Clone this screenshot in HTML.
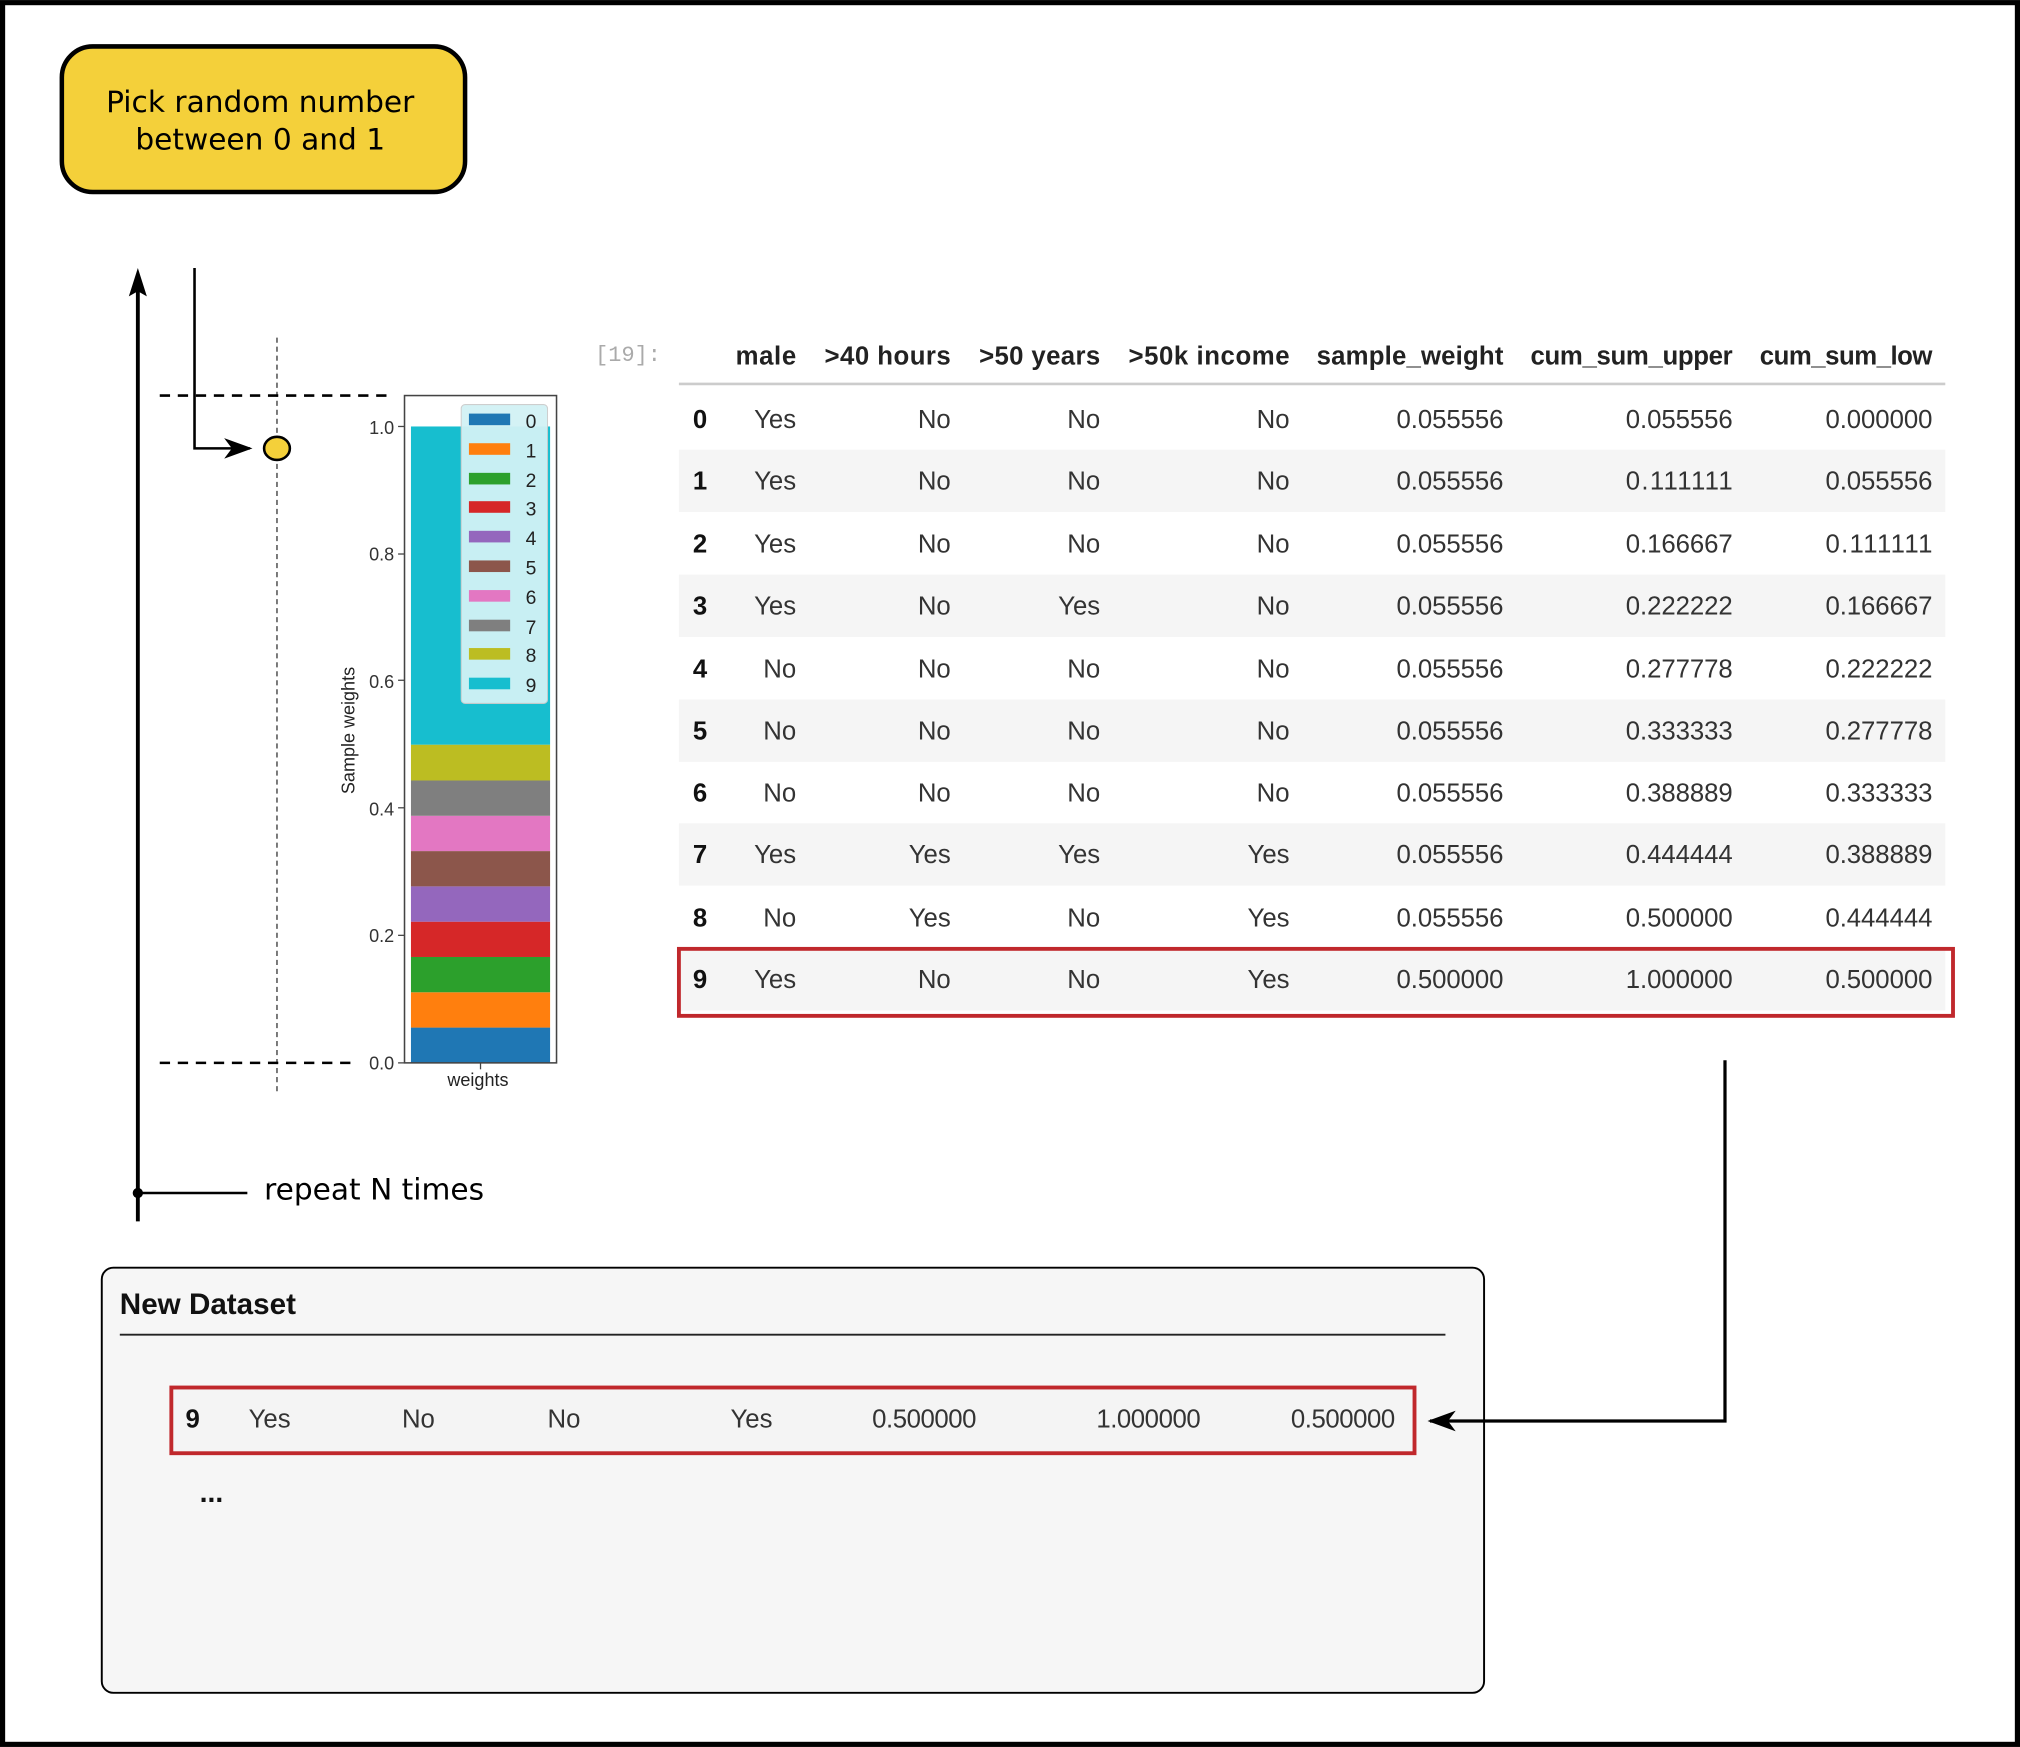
<!DOCTYPE html>
<html><head><meta charset="utf-8"><style>html,body{margin:0;padding:0;background:#fff}svg{display:block}</style></head><body>
<svg width="2020" height="1747" viewBox="0 0 1568 1356" xmlns="http://www.w3.org/2000/svg" font-family="Liberation Sans, sans-serif">
<defs>
<marker id="ah2" markerWidth="22" markerHeight="16" refX="20" refY="8" orient="auto" markerUnits="userSpaceOnUse"><path d="M0,0 L22,8 L0,16 L6,8 Z" fill="#000"/></marker>
</defs>
<rect x="0" y="0" width="1568" height="1356" fill="#fff"/>
<rect x="2" y="2" width="1564" height="1352" fill="none" stroke="#000" stroke-width="4"/>

<rect x="48" y="36" width="313" height="113" rx="24" fill="#f4d03a" stroke="#000" stroke-width="3.5"/>
<text x="202" y="87" font-size="23" text-anchor="middle" font-family="DejaVu Sans, sans-serif">Pick random number</text>
<text x="202" y="116" font-size="23" text-anchor="middle" font-family="DejaVu Sans, sans-serif">between 0 and 1</text>

<line x1="107" y1="948" x2="107" y2="222" stroke="#000" stroke-width="3"/>
<path d="M107,208 L100,230 L107,226 L114,230 Z" fill="#000"/>
<circle cx="107" cy="926" r="4" fill="#000"/>
<line x1="107" y1="926" x2="192" y2="926" stroke="#000" stroke-width="2"/>
<text x="205" y="931" font-size="23" font-family="DejaVu Sans, sans-serif">repeat N times</text>

<path d="M151,208 L151,348 L194,348" fill="none" stroke="#000" stroke-width="2" marker-end="url(#ah2)"/>
<line x1="215" y1="262" x2="215" y2="850" stroke="#555" stroke-width="1.2" stroke-dasharray="4,3"/>
<ellipse cx="215" cy="348" rx="10" ry="9" fill="#f4d03a" stroke="#000" stroke-width="2"/>
<line x1="124" y1="307" x2="305" y2="307" stroke="#000" stroke-width="2" stroke-dasharray="8,6"/>
<line x1="124" y1="825" x2="275" y2="825" stroke="#000" stroke-width="2" stroke-dasharray="8,6"/>

<g>
<rect x="319" y="797.6" width="108" height="27.4" fill="#1f77b4"/>
<rect x="319" y="770.2" width="108" height="27.4" fill="#ff7f0e"/>
<rect x="319" y="742.8" width="108" height="27.4" fill="#2ca02c"/>
<rect x="319" y="715.4" width="108" height="27.4" fill="#d62728"/>
<rect x="319" y="688" width="108" height="27.4" fill="#9467bd"/>
<rect x="319" y="660.6" width="108" height="27.4" fill="#8c564b"/>
<rect x="319" y="633.2" width="108" height="27.4" fill="#e377c2"/>
<rect x="319" y="605.8" width="108" height="27.4" fill="#7f7f7f"/>
<rect x="319" y="578" width="108" height="27.8" fill="#bcbd22"/>
<rect x="319" y="331" width="108" height="247" fill="#17becf"/>
<rect x="314" y="307" width="118" height="518" fill="none" stroke="#444" stroke-width="1.2"/>
<rect x="358" y="314" width="67" height="232" rx="3" fill="#d2f2f5" stroke="#ccc" stroke-width="0.8" opacity="0.95"/>
<g font-size="15" fill="#222">
<rect x="364" y="321" width="32" height="9" fill="#1f77b4"/><text x="408" y="332">0</text>
<rect x="364" y="344" width="32" height="9" fill="#ff7f0e"/><text x="408" y="355">1</text>
<rect x="364" y="367" width="32" height="9" fill="#2ca02c"/><text x="408" y="378">2</text>
<rect x="364" y="389" width="32" height="9" fill="#d62728"/><text x="408" y="400">3</text>
<rect x="364" y="412" width="32" height="9" fill="#9467bd"/><text x="408" y="423">4</text>
<rect x="364" y="435" width="32" height="9" fill="#8c564b"/><text x="408" y="446">5</text>
<rect x="364" y="458" width="32" height="9" fill="#e377c2"/><text x="408" y="469">6</text>
<rect x="364" y="481" width="32" height="9" fill="#7f7f7f"/><text x="408" y="492">7</text>
<rect x="364" y="503" width="32" height="9" fill="#bcbd22"/><text x="408" y="514">8</text>
<rect x="364" y="526" width="32" height="9" fill="#17becf"/><text x="408" y="537">9</text>
</g>
<g font-size="14" fill="#333" text-anchor="end">
<text x="306" y="337">1.0</text><text x="306" y="435">0.8</text><text x="306" y="534">0.6</text>
<text x="306" y="633">0.4</text><text x="306" y="731">0.2</text><text x="306" y="830">0.0</text>
</g>
<g stroke="#444" stroke-width="1"><line x1="309" y1="331" x2="314" y2="331"/><line x1="309" y1="430" x2="314" y2="430"/><line x1="309" y1="528" x2="314" y2="528"/><line x1="309" y1="627" x2="314" y2="627"/><line x1="309" y1="726" x2="314" y2="726"/><line x1="309" y1="825" x2="314" y2="825"/><line x1="373" y1="825" x2="373" y2="830"/></g>
<text x="371" y="843" font-size="14" text-anchor="middle" fill="#222">weights</text>
<text transform="translate(275,567) rotate(-90)" font-size="14" text-anchor="middle" fill="#222">Sample weights</text>
</g>

<text x="462" y="280" font-size="17" fill="#aaa" font-family="Liberation Mono, monospace">[19]:</text>
<g font-size="20" font-weight="bold" fill="#222" text-anchor="end">
<text x="618" y="283" textLength="47">male</text>
<text x="738" y="283" textLength="98">&gt;40 hours</text>
<text x="854" y="283" textLength="94">&gt;50 years</text>
<text x="1001" y="283" textLength="125">&gt;50k income</text>
<text x="1167" y="283" textLength="145">sample_weight</text>
<text x="1345" y="283" textLength="157">cum_sum_upper</text>
<text x="1500" y="283" textLength="134">cum_sum_low</text>
</g>
<line x1="527" y1="298" x2="1510" y2="298" stroke="#ccc" stroke-width="2"/>
<g fill="#f5f5f5">
<rect x="527" y="349" width="983" height="48.4"/><rect x="527" y="446" width="983" height="48.4"/>
<rect x="527" y="543" width="983" height="48.4"/><rect x="527" y="639" width="983" height="48.4"/>
<rect x="527" y="736" width="983" height="48.4"/>
</g>
<g font-size="20" fill="#333" text-anchor="end">
<g transform="translate(0,332)"><text x="549" font-weight="bold" fill="#111">0</text><text x="618">Yes</text><text x="738">No</text><text x="854">No</text><text x="1001">No</text><text x="1167" textLength="83">0.055556</text><text x="1345" textLength="83">0.055556</text><text x="1500" textLength="83">0.000000</text></g>
<g transform="translate(0,380)"><text x="549" font-weight="bold" fill="#111">1</text><text x="618">Yes</text><text x="738">No</text><text x="854">No</text><text x="1001">No</text><text x="1167" textLength="83">0.055556</text><text x="1345" textLength="83">0.111111</text><text x="1500" textLength="83">0.055556</text></g>
<g transform="translate(0,429)"><text x="549" font-weight="bold" fill="#111">2</text><text x="618">Yes</text><text x="738">No</text><text x="854">No</text><text x="1001">No</text><text x="1167" textLength="83">0.055556</text><text x="1345" textLength="83">0.166667</text><text x="1500" textLength="83">0.111111</text></g>
<g transform="translate(0,477)"><text x="549" font-weight="bold" fill="#111">3</text><text x="618">Yes</text><text x="738">No</text><text x="854">Yes</text><text x="1001">No</text><text x="1167" textLength="83">0.055556</text><text x="1345" textLength="83">0.222222</text><text x="1500" textLength="83">0.166667</text></g>
<g transform="translate(0,526)"><text x="549" font-weight="bold" fill="#111">4</text><text x="618">No</text><text x="738">No</text><text x="854">No</text><text x="1001">No</text><text x="1167" textLength="83">0.055556</text><text x="1345" textLength="83">0.277778</text><text x="1500" textLength="83">0.222222</text></g>
<g transform="translate(0,574)"><text x="549" font-weight="bold" fill="#111">5</text><text x="618">No</text><text x="738">No</text><text x="854">No</text><text x="1001">No</text><text x="1167" textLength="83">0.055556</text><text x="1345" textLength="83">0.333333</text><text x="1500" textLength="83">0.277778</text></g>
<g transform="translate(0,622)"><text x="549" font-weight="bold" fill="#111">6</text><text x="618">No</text><text x="738">No</text><text x="854">No</text><text x="1001">No</text><text x="1167" textLength="83">0.055556</text><text x="1345" textLength="83">0.388889</text><text x="1500" textLength="83">0.333333</text></g>
<g transform="translate(0,670)"><text x="549" font-weight="bold" fill="#111">7</text><text x="618">Yes</text><text x="738">Yes</text><text x="854">Yes</text><text x="1001">Yes</text><text x="1167" textLength="83">0.055556</text><text x="1345" textLength="83">0.444444</text><text x="1500" textLength="83">0.388889</text></g>
<g transform="translate(0,719)"><text x="549" font-weight="bold" fill="#111">8</text><text x="618">No</text><text x="738">Yes</text><text x="854">No</text><text x="1001">Yes</text><text x="1167" textLength="83">0.055556</text><text x="1345" textLength="83">0.500000</text><text x="1500" textLength="83">0.444444</text></g>
<g transform="translate(0,767)"><text x="549" font-weight="bold" fill="#111">9</text><text x="618">Yes</text><text x="738">No</text><text x="854">No</text><text x="1001">Yes</text><text x="1167" textLength="83">0.500000</text><text x="1345" textLength="83">1.000000</text><text x="1500" textLength="83">0.500000</text></g>
</g>
<rect x="527" y="736.5" width="989" height="52" fill="none" stroke="#c0282c" stroke-width="3"/>

<rect x="79" y="984" width="1073" height="330" rx="9" fill="#f6f6f6" stroke="#000" stroke-width="1.5"/>
<text x="93" y="1020" font-size="23" font-weight="bold" fill="#111">New Dataset</text>
<line x1="93" y1="1036" x2="1122" y2="1036" stroke="#222" stroke-width="1.5"/>
<rect x="133" y="1077" width="965" height="51" fill="#f4f4f4" stroke="#c0282c" stroke-width="3"/>
<g font-size="20" fill="#333" transform="translate(0,1108)">
<text x="144" font-weight="bold" fill="#111">9</text>
<text x="193">Yes</text><text x="312">No</text><text x="425">No</text><text x="567">Yes</text>
<text x="677" textLength="81">0.500000</text><text x="851" textLength="81">1.000000</text><text x="1002" textLength="81">0.500000</text>
</g>
<text x="155" y="1166" font-size="22" font-weight="bold" fill="#111">...</text>

<path d="M1339,823 L1339,1103 L1110,1103" fill="none" stroke="#000" stroke-width="2.5" marker-end="url(#ah2)"/>
</svg>
</body></html>
